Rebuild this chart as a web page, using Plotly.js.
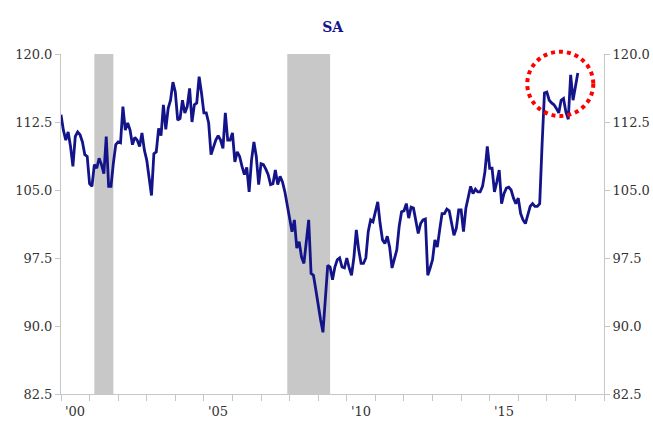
<!DOCTYPE html>
<html>
<head>
<meta charset="utf-8">
<script src="https://cdn.plot.ly/plotly-3.0.1.min.js"></script>
<style>html,body{margin:0;padding:0;background:#fff;}#chart{width:653px;height:425px;}</style>
</head>
<body>
<div id="chart"></div>
<script>
// Monthly index, SA, starting January 2000
const startYear = 2000;
const values = [
113.3,111.6,110.5,111.4,109.8,107.6,110.9,111.4,111.1,110.3,108.9,108.7,
105.7,105.4,107.8,107.4,108.5,107.8,106.8,110.9,105.4,105.4,108.0,110.0,
110.3,110.2,114.2,111.6,112.4,111.6,110.0,110.8,110.5,109.8,111.3,109.4,
108.3,106.1,104.4,109.0,109.2,111.8,111.0,114.4,111.7,114.0,114.9,116.9,
115.8,112.7,112.9,114.9,113.5,114.2,116.2,112.5,114.4,114.6,117.5,115.7,
113.5,113.5,112.4,108.9,109.8,110.5,111.0,110.5,109.6,113.5,110.5,110.5,
111.3,108.1,109.2,108.7,107.6,106.7,107.5,104.8,108.3,110.3,108.7,105.6,
107.9,107.8,107.3,106.7,105.6,105.7,107.2,105.6,106.5,105.9,104.8,103.3,
102.1,100.4,101.7,98.6,99.3,97.6,96.9,99.3,101.7,95.8,95.6,94.0,
92.1,90.7,89.3,93.6,96.7,96.5,95.1,96.5,97.3,97.5,96.5,96.4,
97.5,96.4,95.6,97.6,100.6,98.4,96.9,96.9,97.5,100.4,101.7,101.5,
102.6,103.7,101.3,99.5,99.1,99.9,98.7,96.4,97.4,98.4,101.0,102.6,
102.7,103.5,101.9,103.1,103.0,101.7,100.2,101.3,101.7,101.8,95.6,96.4,
97.3,99.5,98.7,100.6,102.4,102.4,102.9,102.7,101.3,100.0,100.8,102.8,
102.8,100.4,103.0,104.4,105.4,104.6,105.1,104.8,104.8,105.4,107.0,109.8,
107.4,107.4,104.8,105.9,107.2,103.5,104.6,105.2,105.3,105.0,104.1,103.5,
104.1,102.4,101.7,101.3,102.4,103.2,103.5,103.2,103.2,103.5,110.0,115.7,
115.8,114.9,114.6,114.4,114.0,113.5,114.9,115.1,113.6,112.8,117.7,114.9,
116.4,117.9
];
// Recessions (decimal years)
const recessionStart = [2001 + 2/12, 2007 + 11/12];
const recessionEnd   = [2001 + 10/12, 2009 + 5/12];
// Axis ticks
const yTicks = [82.5, 90.0, 97.5, 105.0, 112.5, 120.0];
const yTickText = ["82.5", "90.0", "97.5", "105.0", "112.5", "120.0"];
const xLabelPos = [2000.5, 2005.5, 2010.5, 2015.5];
const xLabelText = ["'00", "'05", "'10", "'15"];

const xs = values.map((v, i) => startYear + i / 12);

const tickFont = {family: "DejaVu Serif, serif", size: 13, color: "#333333"};
const axisGrey = "#c6c6c6";

const traces = [
  {x: xs, y: values, type: "scatter", mode: "lines",
   line: {color: "#14148a", width: 2.8}, hoverinfo: "skip", xaxis: "x", yaxis: "y"},
  {x: xs, y: values, type: "scatter", mode: "lines",
   line: {color: "rgba(0,0,0,0)", width: 0}, hoverinfo: "skip", xaxis: "x", yaxis: "y2", showlegend: false}
];

const shapes = recessionStart.map((s, i) => ({
  type: "rect", xref: "x", yref: "paper", x0: s, x1: recessionEnd[i], y0: 0, y1: 1,
  fillcolor: "#c8c8c8", line: {width: 0}, layer: "below"
}));
// highlight circle (paper coords so it is not clipped at the plot top)
shapes.push({
  type: "circle", xref: "paper", yref: "paper",
  x0: 0.8587, x1: 0.9803, y0: 0.8176, y1: 1.0068,
  line: {color: "#ff0000", width: 4, dash: "4px,4px"}, fillcolor: "rgba(0,0,0,0)"
});

const annotations = xLabelPos.map((p, i) => ({
  x: p, xref: "x", y: 0, yref: "paper", yanchor: "top", yshift: -8,
  text: xLabelText[i], showarrow: false, font: tickFont
}));

const yCommon = {
  range: [82.5, 120], tickvals: yTicks, ticktext: yTickText,
  showgrid: false, zeroline: false, showline: true, linecolor: axisGrey, linewidth: 1,
  ticks: "outside", ticklen: 5, tickcolor: axisGrey, tickfont: tickFont
};

const layout = {
  width: 653, height: 425,
  margin: {l: 61, r: 49, t: 54, b: 31},
  paper_bgcolor: "#fff", plot_bgcolor: "#fff",
  showlegend: false,
  title: {text: "<b>SA</b>", x: 0.5095, xanchor: "center", y: 0.937, yanchor: "middle",
          font: {family: "DejaVu Serif, serif", size: 14, color: "#14148a"}},
  xaxis: {range: [2000, 2019], tick0: 2000, dtick: 1, showticklabels: false,
          showgrid: false, zeroline: false, showline: true, linecolor: axisGrey, linewidth: 1,
          ticks: "outside", ticklen: 6, tickcolor: axisGrey},
  yaxis: Object.assign({side: "left"}, yCommon),
  yaxis2: Object.assign({side: "right", overlaying: "y", anchor: "x"}, yCommon),
  shapes: shapes,
  annotations: annotations
};

Plotly.newPlot("chart", traces, layout, {displayModeBar: false, staticPlot: true});
</script>
</body>
</html>
